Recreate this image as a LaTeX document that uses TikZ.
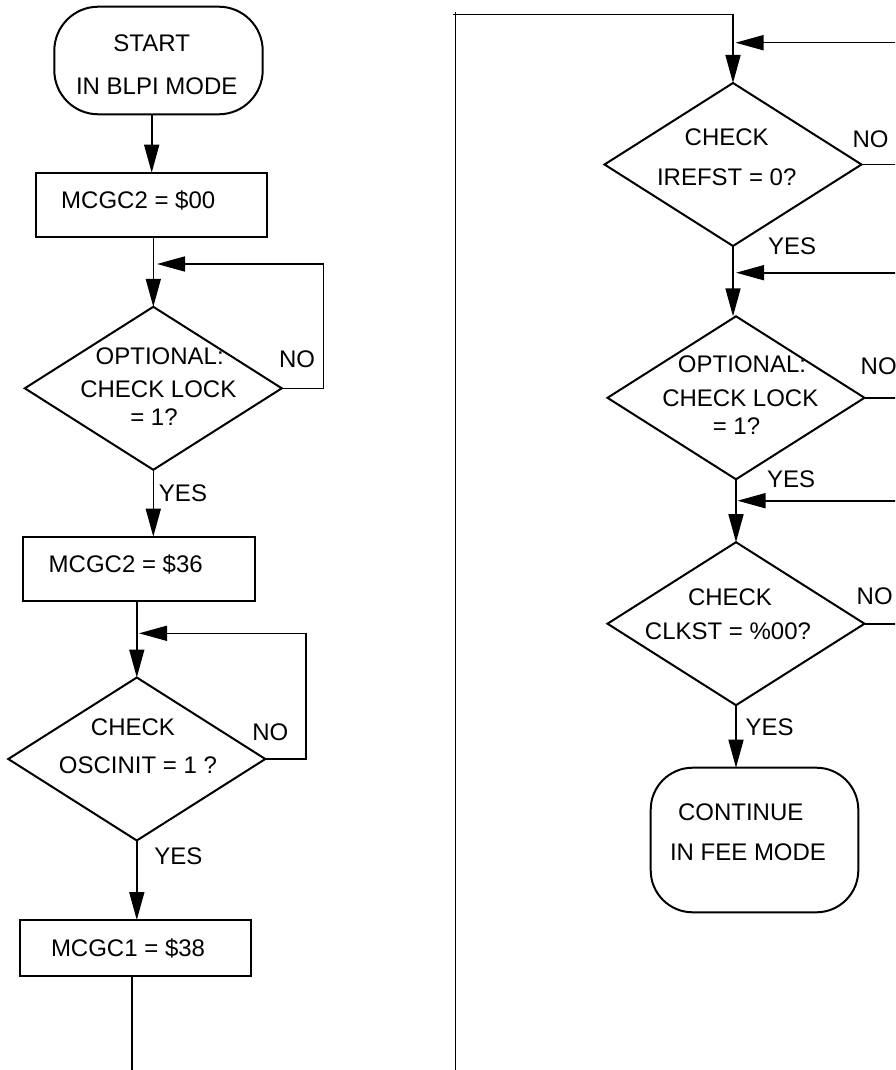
\documentclass[tikz,border=0pt]{standalone}
\usepackage{fontspec}
\setmainfont{Liberation Sans}
\usetikzlibrary{shapes.geometric,arrows.meta}
\begin{document}
\begin{tikzpicture}[x=1pt,y=-1pt,
  shp/.style={draw, line width=2pt, outer sep=0pt, inner sep=0pt},
  dia/.style={shp, diamond, minimum width=257pt, minimum height=163pt},
  box/.style={shp, rectangle, minimum width=231.5pt},
  term/.style={shp, rectangle, rounded corners=44pt},
  txt/.style={inner sep=0pt, text height=17.2pt, text depth=0pt, font=\fontsize{24}{28}\selectfont},
  conn/.style={line width=1.6pt},
  arr/.style={conn, -{Triangle[length=28pt,width=15pt]}}]
\useasboundingbox (0,0) rectangle (895,1070);
\clip (0,0) rectangle (895,1070);

% ---------- left column ----------
\node[term, minimum width=208.4pt, minimum height=107.6pt] (start) at (158.5,60.5) {};
\node[txt] (startA) at (151.7,43.3) {START};
\node[txt] (startB) at (156.7,86) {IN BLPI MODE};

\node[box, minimum height=64pt] (b1) at (151.7,204.7) {};
\node[txt, anchor=west] (b1t) at (61,200) {MCGC2 = \$00};

\node[dia] (L1) at (153.3,388.3) {};
\node[txt] (L1a) at (159.7,356) {OPTIONAL:};
\node[txt] (L1b) at (158.3,389.3) {CHECK LOCK};
\node[txt] (L1c) at (154,417.3) {= 1?};
\node[txt] (L1no) at (297,359.3) {NO};
\node[txt] (L1yes) at (183,492.7) {YES};

\node[box, minimum height=64.3pt] (b2) at (139.2,568.8) {};
\node[txt, anchor=west] (b2t) at (48.5,564) {MCGC2 = \$36};

\node[dia] (L3) at (136.8,759) {};
\node[txt] (L3a) at (133,727.3) {CHECK};
\node[txt] (L3b) at (138,765) {OSCINIT = 1 ?};
\node[txt] (L3no) at (270.3,731.7) {NO};
\node[txt] (L3yes) at (178.3,855.7) {YES};

\node[box, minimum height=56.3pt] (b3) at (135.5,948.2) {};
\node[txt, anchor=west] (b3t) at (50.8,947.7) {MCGC1 = \$38};

\coordinate (n1) at (323.5,264);
\coordinate (j1) at (157,264);
\coordinate (n3) at (305.7,633.3);
\coordinate (j3) at (139,633.3);
\coordinate (e1) at (131.7,1072);

\draw[arr] (start.south -| b1.north) -- (b1.north);
\draw[arr] (b1.south -| L1.north) -- (L1.north);
\draw[arr] (L1.east) -| (n1) -- (j1);
\draw[arr] (L1.south) -- (L1.south |- b2.north);
\draw[arr] (b2.south -| L3.north) -- (L3.north);
\draw[arr] (L3.east) -| (n3) -- (j3);
\draw[arr] (L3.south) -- (L3.south |- b3.north);
\draw[conn] (b3.south -| e1) -- (e1);

% ---------- right column ----------
\node[dia] (R1) at (733,164.5) {};
\node[txt] (R1a) at (726.7,136.7) {CHECK};
\node[txt] (R1b) at (726.7,176.7) {IREFST = 0?};
\node[txt] (R1no) at (870.5,139) {NO};
\node[txt] (R1yes) at (792,246) {YES};

\node[dia] (R2) at (736,397.8) {};
\node[txt] (R2a) at (742,364.3) {OPTIONAL:};
\node[txt] (R2b) at (740.3,397.7) {CHECK LOCK};
\node[txt] (R2c) at (736.5,426) {= 1?};
\node[txt, anchor=west] (R2no) at (860.5,366) {NO};
\node[txt] (R2yes) at (791,479) {YES};

\node[dia] (R3) at (736,623.7) {};
\node[txt] (R3a) at (730,596.7) {CHECK};
\node[txt] (R3b) at (728,630.7) {CLKST = \%00?};
\node[txt] (R3no) at (874.7,596) {NO};
\node[txt] (R3yes) at (769.7,726.7) {YES};

\node[term, rounded corners=42pt, minimum width=207.6pt, minimum height=144.6pt] (cont) at (754.5,840) {};
\node[txt] (contA) at (740.7,812.3) {CONTINUE};
\node[txt] (contB) at (748,852.3) {IN FEE MODE};

\coordinate (cBL) at (455.5,1072);
\coordinate (cTL) at (455.5,12.5);
\coordinate (hT) at (453,14.5);
\coordinate (r0) at (896,42.7);
\coordinate (j4) at (735.5,42.7);
\coordinate (r1) at (896,164.5);
\coordinate (r2) at (896,272.7);
\coordinate (j5) at (736,272.7);
\coordinate (r3) at (896,397.8);
\coordinate (r4) at (896,500.7);
\coordinate (j6) at (737.5,500.7);
\coordinate (r5) at (896,623.7);

\draw[conn] (cBL) -- (cTL);
\draw[arr] (hT) -| (R1.north);
\draw[arr] (r0) -- (j4);
\draw[conn] (R1.east) -- (r1);
\draw[arr] (R1.south) -- (R1.south |- R2.north);
\draw[arr] (r2) -- (j5);
\draw[conn] (R2.east) -- (r3);
\draw[arr] (R2.south) -- (R2.south |- R3.north);
\draw[arr] (r4) -- (j6);
\draw[conn] (R3.east) -- (r5);
\draw[arr] (R3.south) -- (R3.south |- cont.north);
\end{tikzpicture}
\end{document}
